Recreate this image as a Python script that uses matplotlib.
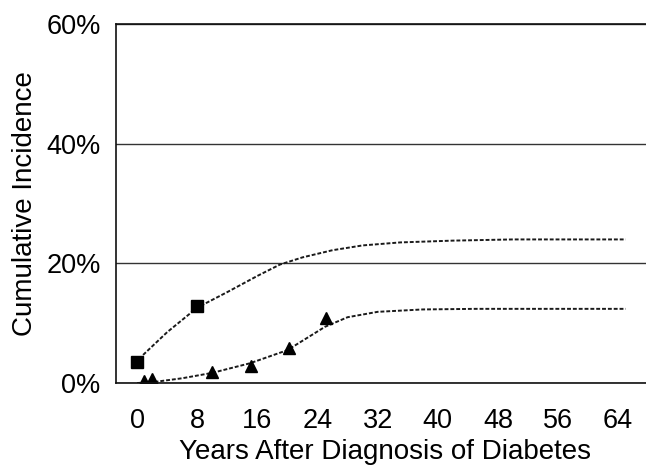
import matplotlib
matplotlib.use("Agg")
import matplotlib.pyplot as plt
from matplotlib.ticker import FuncFormatter

plt.rcParams['font.family'] = ['Liberation Sans', 'DejaVu Sans']

# observed points (years, % cumulative incidence)
sq_years = [0, 8]
sq_pct = [3.5, 12.8]
tri_years = [0.9, 2, 10, 15.2, 20.2, 25.1]
tri_pct = [0.3, 0.6, 1.8, 2.8, 5.8, 10.8]

# fitted curves
upper_years = [0.8, 4, 8, 12, 16, 19, 22, 26, 30, 35, 42, 50, 65]
upper_pct = [4.7, 8.5, 12.6, 15.2, 17.9, 19.8, 21.0, 22.2, 23.0, 23.5, 23.8, 24.0, 24.0]
lower_years = [0, 2.4, 6, 10, 15, 20, 25, 28, 32, 38, 45, 65]
lower_pct = [0, 0.2, 0.8, 1.7, 3.3, 5.5, 9.4, 11.0, 11.9, 12.3, 12.4, 12.4]

x_ticks = [0, 8, 16, 24, 32, 40, 48, 56, 64]
y_ticks = [0, 20, 40, 60]

fig = plt.figure(figsize=(6.46, 4.66), dpi=100)
ax = fig.add_axes([0.1796, 0.178, 0.8204, 0.7705])

ax.plot(upper_years, upper_pct, color='#1a1a1a', linestyle=(0, (2, 1)), linewidth=1.4)
ax.plot(lower_years, lower_pct, color='#1a1a1a', linestyle=(0, (2, 1)), linewidth=1.4)
ax.plot(sq_years, sq_pct, 's', color='black', markersize=8, linestyle='none')
ax.plot(tri_years, tri_pct, '^', color='black', markersize=8, linestyle='none')

ax.set_xlim(-2.8, 67.7)
ax.set_ylim(0, 60)
ax.set_xticks(x_ticks)
ax.set_yticks(y_ticks)
ax.yaxis.set_major_formatter(FuncFormatter(lambda v, p: f"{int(v)}%"))
ax.tick_params(axis='both', length=0, labelsize=19.5)
ax.tick_params(axis='x', pad=18)
ax.tick_params(axis='y', pad=11)

ax.grid(axis='y', color='#333333', linewidth=1.0)
ax.set_axisbelow(True)
ax.spines['right'].set_visible(False)
for s in ['left', 'bottom', 'top']:
    ax.spines[s].set_linewidth(1.2)
    ax.spines[s].set_color('#111111')

ax.set_xlabel('Years After Diagnosis of Diabetes', fontsize=20)
ax.set_ylabel('Cumulative Incidence', fontsize=20)
ax.xaxis.set_label_coords(0.508, -0.157)
ax.yaxis.set_label_coords(-0.148, 0.5)

fig.savefig('out.png', dpi=100)
